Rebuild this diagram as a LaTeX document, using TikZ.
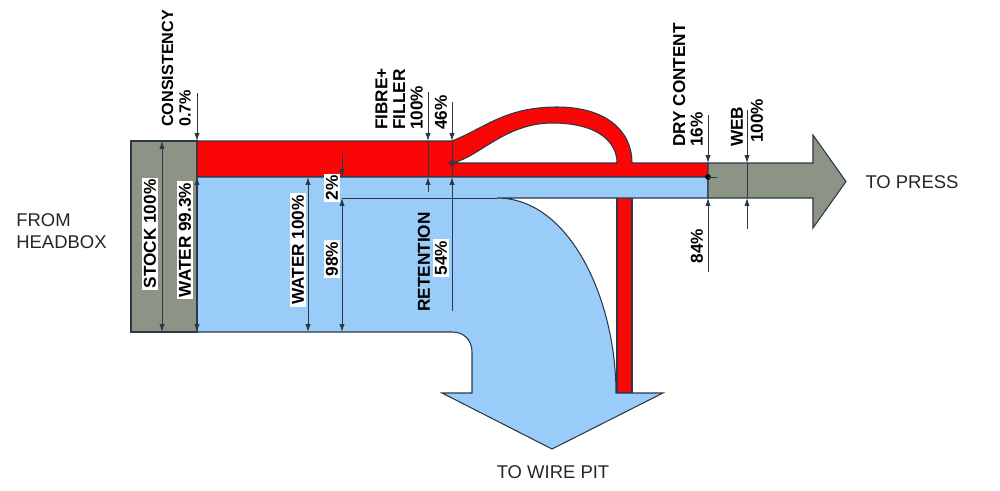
\documentclass[tikz,border=0pt]{standalone}
\usepackage{fontspec}
\setmainfont{Liberation Sans}
\usetikzlibrary{arrows.meta}

\definecolor{stockgray}{RGB}{140,148,134}
\definecolor{waterblue}{RGB}{153,204,248}
\definecolor{fibrered}{RGB}{250,6,6}
\definecolor{edgedark}{RGB}{45,55,70}

\tikzset{
  flowedge/.style={draw=edgedark, line width=0.6pt},
  dimline/.style={draw=edgedark, line width=0.5pt},
  dimarrow/.style={dimline, -{Latex[length=4.5pt,width=3pt]}},
  dimboth/.style={dimline, {Latex[length=4.5pt,width=3pt]}-{Latex[length=4.5pt,width=3pt]}},
  dimlabel/.style={rotate=90, font=\bfseries\fontsize{9.8}{10}\selectfont, inner sep=0.5pt},
  boxlabel/.style={dimlabel, fill=white, inner sep=1pt},
  plainlabel/.style={font=\fontsize{10.5}{12.5}\selectfont, text=black!85, inner sep=0pt},
}

\begin{document}
\begin{tikzpicture}[x=0.02cm, y=-0.02cm]
\useasboundingbox (0,0) rectangle (1000,490);

\filldraw[flowedge, fill=stockgray] (131,141) rectangle (197,332) ; % headbox stock
\filldraw[flowedge, fill=fibrered] (617,163) rectangle (632,393) ; % fibre drop
\filldraw[flowedge, fill=fibrered, even odd rule] (197,141) -- (452,141) .. controls (485,128) and (505,107) .. (557,107) .. controls (605,107) and (632,130) .. (632,163) -- (708,163) -- (708,177) -- (197,177) -- cycle
  (452,163) .. controls (478,158) and (505,123) .. (552,123) .. controls (598,123) and (617,142) .. (617,163) -- cycle ; % fibre loop
\filldraw[flowedge, fill=waterblue] (197,177) -- (708,177) -- (708,198) -- (497,198) .. controls (570,198) and (616,300) .. (616,393) -- (663,393) -- (552,449) -- (442,393) -- (472,393) -- (472,352) .. controls (472,340) and (464,332) .. (452,332) -- (197,332) -- cycle ; % water
\filldraw[flowedge, fill=stockgray] (708,163) -- (813,163) -- (813,135) -- (846,181.5) -- (813,228) -- (813,198) -- (708,198) -- cycle ; % web

\coordinate (SplitDot) at (452,163) ;
\coordinate (DryDot) at (708,177) ;
\coordinate (DryTick) at (717,177) ;
\fill[edgedark] (SplitDot) circle[radius=1.6pt] ;
\fill[black] (DryDot) circle[radius=1.6pt] ;
\draw[dimline] (DryDot) -- (DryTick) ;

\coordinate (ConsistencyTop) at (197,93) ;
\coordinate (StockTop) at (162,141) ;
\coordinate (StockBot) at (162,332) ;
\coordinate (RedTop) at (197,141) ;
\coordinate (WaterTop) at (197,177) ;
\coordinate (WaterBot) at (197,332) ;
\coordinate (WaterInTop) at (308,177) ;
\coordinate (WaterInBot) at (308,332) ;
\coordinate (TwoTop) at (342,152) ;
\coordinate (TwoMid) at (342,177) ;
\coordinate (TwoBot) at (342,198) ;
\coordinate (NinetyEightBot) at (342,332) ;
\coordinate (PitStart) at (497,198) ;
\coordinate (FibreTop) at (428,92) ;
\coordinate (FibreA) at (428,141) ;
\coordinate (FibreB) at (428,177) ;
\coordinate (FibreTail) at (428,192) ;
\coordinate (LoopTop) at (452,102) ;
\coordinate (LoopA) at (452,141) ;
\coordinate (LoopB) at (452,177) ;
\coordinate (RetentionTail) at (452,311) ;
\coordinate (DryTop) at (708,115) ;
\coordinate (DryA) at (708,163) ;
\coordinate (DryB) at (708,198) ;
\coordinate (DryTail) at (708,272) ;
\coordinate (WebTop) at (747,110) ;
\coordinate (WebA) at (747,163) ;
\coordinate (WebB) at (747,198) ;
\coordinate (WebTail) at (747,229) ;

\draw[dimarrow] (ConsistencyTop) -- (RedTop) ;
\draw[dimboth] (StockTop) -- (StockBot) ;
\draw[dimboth] (WaterTop) -- (WaterBot) ;
\draw[dimboth] (WaterInTop) -- (WaterInBot) ;
\draw[dimarrow] (TwoTop) -- (TwoMid) ;
\draw[dimboth] (TwoBot) -- (NinetyEightBot) ;
\draw[dimline] (TwoBot) -- (PitStart) ;
\draw[dimarrow] (FibreTop) -- (FibreA) ;
\draw[dimline] (FibreA) -- (FibreB) ;
\draw[dimarrow] (FibreTail) -- (FibreB) ;
\draw[dimarrow] (LoopTop) -- (LoopA) ;
\draw[dimline] (LoopA) -- (LoopB) ;
\draw[dimarrow] (RetentionTail) -- (LoopB) ;
\draw[dimarrow] (DryTop) -- (DryA) ;
\draw[dimarrow] (DryTail) -- (DryB) ;
\draw[dimarrow] (WebTop) -- (WebA) ;
\draw[dimline] (WebA) -- (WebB) ;
\draw[dimarrow] (WebTail) -- (WebB) ;

\node[dimlabel, font=\bfseries\fontsize{9.2}{10}\selectfont, align=left, anchor=south west] (Consistency) at (192,128) {CONSISTENCY\\0.7\%} ;
\node[boxlabel] (Stock) at (150,234) {STOCK 100\%} ;
\node[boxlabel] (WaterIn) at (185,240) {WATER 99.3\%} ;
\node[boxlabel] (WaterAll) at (298,250) {WATER 100\%} ;
\node[boxlabel] (TwoPct) at (332,188) {2\%} ;
\node[boxlabel] (NinetyEight) at (332,259) {98\%} ;
\node[dimlabel, align=left, anchor=south west] (Fibre) at (424,131) {FIBRE+\\FILLER\\100\%} ;
\node[dimlabel, anchor=west] (FortySix) at (441,131) {46\%} ;
\node[dimlabel] (Retention) at (424,262) {RETENTION} ;
\node[boxlabel] (FiftyFour) at (441,258) {54\%} ;
\node[dimlabel, align=left, anchor=south west] (Dry) at (704,148) {DRY CONTENT\\16\%} ;
\node[dimlabel] (EightyFour) at (697,246) {84\%} ;
\node[dimlabel, anchor=west] (WebText) at (737,148) {WEB} ;
\node[dimlabel, anchor=west] (WebValue) at (757,144) {100\%} ;

\node[plainlabel, align=left, anchor=west] (Headbox) at (16,231) {FROM\\HEADBOX} ;
\node[plainlabel] (Press) at (912,182) {TO PRESS} ;
\node[plainlabel] (WirePit) at (553,472) {TO WIRE PIT} ;
\end{tikzpicture}
\end{document}
